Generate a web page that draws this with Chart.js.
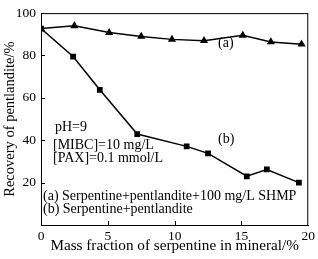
<!DOCTYPE html>
<html>
<head>
<meta charset="utf-8">
<script src="https://cdn.jsdelivr.net/npm/chart.js@4.4.0/dist/chart.umd.min.js"></script>
<style>
    html, body { margin: 0; padding: 0; background: #fff; }
    #wrap { width: 318px; height: 259px; }
</style>
</head>
<body>
<div id="wrap"><canvas id="chart" width="318" height="259"></canvas></div>
<script>
// Data
const xA = [0, 2.5, 5.1, 7.5, 9.8, 12.2, 15.1, 17.2, 19.5];
const yA = [92.7, 94.0, 90.8, 89.0, 87.6, 87.0, 89.5, 86.4, 85.3];
const xB = [0, 2.4, 4.4, 7.2, 10.9, 12.5, 15.4, 16.9, 19.3];
const yB = [92.7, 79.5, 63.8, 42.9, 37.1, 33.8, 23.0, 26.2, 20.0];

const xTicks = [0, 5, 10, 15, 20];
const yTicks = [0, 20, 40, 60, 80, 100];

const font = 'Liberation Serif';

// Frame, inward ticks and text notes
const framePlugin = {
    id: 'frame',
    afterDraw(chart) {
        const ctx = chart.ctx;
        const a = chart.chartArea;
        const x = chart.scales.x;
        const y = chart.scales.y;
        ctx.save();
        ctx.strokeStyle = '#000';
        ctx.lineWidth = 1;
        ctx.strokeRect(a.left + 0.5, a.top + 0.5, a.right - a.left - 1, a.bottom - a.top);

        xTicks.slice(1, -1).forEach(v => {
            const px = Math.round(x.getPixelForValue(v)) + 0.5;
            ctx.beginPath();
            ctx.moveTo(px, a.bottom);
            ctx.lineTo(px, a.bottom - 4);
            ctx.stroke();
        });
        yTicks.slice(1, -1).forEach(v => {
            const py = Math.round(y.getPixelForValue(v)) + 0.5;
            ctx.beginPath();
            ctx.moveTo(a.left, py);
            ctx.lineTo(a.left + 4, py);
            ctx.stroke();
        });

        ctx.fillStyle = '#000';
        ctx.font = '14px "' + font + '"';
        ctx.textBaseline = 'middle';
        ctx.textAlign = 'left';
        ctx.fillText('(a)', 218, 43);
        ctx.fillText('(b)', 218, 139);
        ctx.fillText('pH=9', 55, 127);
        ctx.fillText('[MIBC]=10 mg/L', 53, 145);
        ctx.fillText('[PAX]=0.1 mmol/L', 53, 158);
        ctx.fillText('(a) Serpentine+pentlandite+100 mg/L SHMP', 43, 196);
        ctx.fillText('(b) Serpentine+pentlandite', 43, 209);
        ctx.restore();
    }
};

new Chart(document.getElementById('chart'), {
    type: 'scatter',
    data: {
        datasets: [
            {
                label: '(a)',
                data: xA.map((v, i) => ({ x: v, y: yA[i] })),
                showLine: true,
                borderColor: '#000',
                backgroundColor: '#000',
                borderWidth: 1.5,
                pointStyle: 'triangle',
                pointRadius: 3.2
            },
            {
                label: '(b)',
                data: xB.map((v, i) => ({ x: v, y: yB[i] })),
                showLine: true,
                borderColor: '#000',
                backgroundColor: '#000',
                borderWidth: 1.5,
                pointStyle: 'rect',
                pointRadius: 3
            }
        ]
    },
    options: {
        responsive: false,
        animation: false,
        layout: { padding: { top: 5, right: 3, left: 0, bottom: 0 } },
        plugins: {
            legend: { display: false },
            tooltip: { enabled: false }
        },
        scales: {
            x: {
                type: 'linear',
                min: 0,
                max: 20,
                afterBuildTicks: axis => { axis.ticks = xTicks.map(v => ({ value: v })); },
                afterFit: axis => { axis.height = 34; },
                grid: { display: false, drawTicks: false },
                border: { display: true, color: '#000', width: 1 },
                ticks: {
                    color: '#000',
                    padding: 3,
                    maxRotation: 0,
                    font: { family: font, size: 13.5 }
                },
                title: {
                    display: true,
                    text: 'Mass fraction of serpentine in mineral/%',
                    color: '#000',
                    padding: { top: 0, bottom: 4 },
                    font: { family: font, size: 15.2 }
                }
            },
            y: {
                type: 'linear',
                min: 0,
                max: 100,
                afterBuildTicks: axis => { axis.ticks = yTicks.map(v => ({ value: v })); },
                afterFit: axis => { axis.width = 41; },
                grid: { display: false, drawTicks: false },
                border: { display: true, color: '#000', width: 1 },
                ticks: {
                    color: '#000',
                    padding: 5,
                    font: { family: font, size: 13.5 },
                    callback: v => (v === 0 ? '' : v)
                },
                title: {
                    display: true,
                    text: 'Recovery of pentlandite/%',
                    color: '#000',
                    padding: { top: 1, bottom: 0 },
                    font: { family: font, size: 14.5 }
                }
            }
        }
    },
    plugins: [framePlugin]
});
</script>
</body>
</html>
